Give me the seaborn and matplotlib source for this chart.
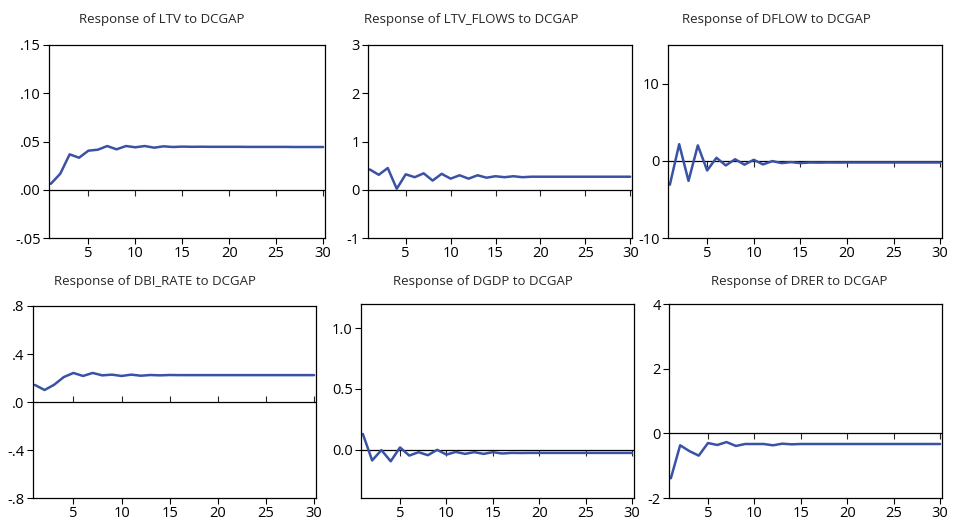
import matplotlib
matplotlib.use("Agg")
import matplotlib.pyplot as plt
import numpy as np
import pandas as pd
import seaborn as sns

sns.set_style("white")
plt.rcParams['font.family'] = ['Open Sans', 'DejaVu Sans']

periods = list(range(1, 31))

# impulse responses
ltv = [0.0062, 0.0166, 0.0367, 0.0332, 0.0405, 0.0415, 0.0453, 0.0419, 0.0453, 0.0440,
       0.0453, 0.0436, 0.0450, 0.0443, 0.0447, 0.0445, 0.0446, 0.0445, 0.0445, 0.0445,
       0.0445, 0.0444, 0.0444, 0.0444, 0.0444, 0.0444, 0.0443, 0.0443, 0.0443, 0.0443]
ltv_flows = [0.42, 0.31, 0.45, 0.02, 0.32, 0.26, 0.34, 0.19, 0.33, 0.23,
             0.30, 0.23, 0.30, 0.25, 0.28, 0.26, 0.28, 0.26, 0.27, 0.27,
             0.27, 0.27, 0.27, 0.27, 0.27, 0.27, 0.27, 0.27, 0.27, 0.27]
dflow = [-3.1, 2.15, -2.6, 2.0, -1.25, 0.39, -0.6, 0.2, -0.5, 0.13,
         -0.47, -0.04, -0.3, -0.17, -0.3, -0.22, -0.24, -0.22, -0.23, -0.22,
         -0.22, -0.22, -0.22, -0.22, -0.22, -0.22, -0.22, -0.22, -0.22, -0.22]
dbi_rate = [0.142, 0.100, 0.144, 0.208, 0.242, 0.217, 0.242, 0.222, 0.228, 0.217,
            0.228, 0.219, 0.225, 0.222, 0.225, 0.224, 0.224, 0.224, 0.224, 0.224,
            0.224, 0.224, 0.224, 0.224, 0.224, 0.224, 0.224, 0.224, 0.224, 0.224]
dgdp = [0.128, -0.090, -0.005, -0.097, 0.017, -0.050, -0.022, -0.047, -0.003, -0.042,
        -0.020, -0.036, -0.022, -0.036, -0.022, -0.033, -0.028, -0.029, -0.028, -0.028,
        -0.028, -0.028, -0.028, -0.028, -0.028, -0.028, -0.028, -0.028, -0.028, -0.028]
drer = [-1.39, -0.37, -0.55, -0.69, -0.30, -0.36, -0.27, -0.39, -0.33, -0.33,
        -0.33, -0.37, -0.32, -0.34, -0.33, -0.33, -0.33, -0.33, -0.33, -0.33,
        -0.33, -0.33, -0.33, -0.33, -0.33, -0.33, -0.33, -0.33, -0.33, -0.33]

titles = ["Response of LTV to DCGAP", "Response of LTV_FLOWS to DCGAP",
          "Response of DFLOW to DCGAP", "Response of DBI_RATE to DCGAP",
          "Response of DGDP to DCGAP", "Response of DRER to DCGAP"]
series = [ltv, ltv_flows, dflow, dbi_rate, dgdp, drer]
y_ticks = [[-0.05, 0.0, 0.05, 0.10, 0.15], [-1, 0, 1, 2, 3], [-10, 0, 10],
           [-0.8, -0.4, 0.0, 0.4, 0.8], [0.0, 0.5, 1.0], [-2, 0, 2, 4]]
y_labels = [["-.05", ".00", ".05", ".10", ".15"], ["-1", "0", "1", "2", "3"],
            ["-10", "0", "10"], ["-.8", "-.4", ".0", ".4", ".8"],
            ["0.0", "0.5", "1.0"], ["-2", "0", "2", "4"]]
y_lims = [(-0.05, 0.15), (-1, 3), (-10, 15), (-0.8, 0.8), (-0.4, 1.2), (-2, 4)]
x_ticks = [5, 10, 15, 20, 25, 30]

# layout in pixels: (left, top, right, bottom) and title centre
W, H = 956, 523
boxes = [(49, 45, 325, 238), (368, 45, 632, 238), (668, 45, 942, 238),
         (33, 306, 316, 498), (361, 304, 634, 498), (669, 304, 942, 498)]
title_pos = [(162, 19), (471, 19), (776, 19), (155, 281), (483, 281), (799, 281)]

line_color = "#3a52a5"

fig = plt.figure(figsize=(W / 100, H / 100), dpi=100)

for i in range(6):
    l, t, r, b = boxes[i]
    ax = fig.add_axes([l / W, 1 - b / H, (r - l) / W, (b - t) / H])
    df = pd.DataFrame({"period": periods, "response": series[i]})
    sns.lineplot(data=df, x="period", y="response", ax=ax, color=line_color, linewidth=1.8)
    ax.axhline(0, color="black", linewidth=0.9, zorder=1)
    ax.set_xlim(0.8, 30.2)
    ax.set_ylim(*y_lims[i])
    ax.set_yticks(y_ticks[i])
    ax.set_yticklabels(y_labels[i])
    ax.set_xticks(x_ticks)
    ax.set_xlabel("")
    ax.set_ylabel("")
    ax.tick_params(axis="both", direction="out", length=4, width=0.8, labelsize=10.5,
                   colors="black", pad=2, left=True, bottom=True)
    for s in ax.spines.values():
        s.set_color("black")
        s.set_linewidth(0.9)
    # tick marks on the zero line
    lo, hi = y_lims[i]
    sec = ax.secondary_xaxis((0 - lo) / (hi - lo))
    sec.set_xticks(x_ticks)
    sec.tick_params(direction="out", length=4, width=0.8, labelbottom=False, labeltop=False)
    sec.spines["bottom"].set_visible(False)
    sec.spines["top"].set_visible(False)
    fig.text(title_pos[i][0] / W, 1 - title_pos[i][1] / H, titles[i],
             ha="center", va="center", fontsize=9.5)

fig.savefig("out.png", dpi=100)
